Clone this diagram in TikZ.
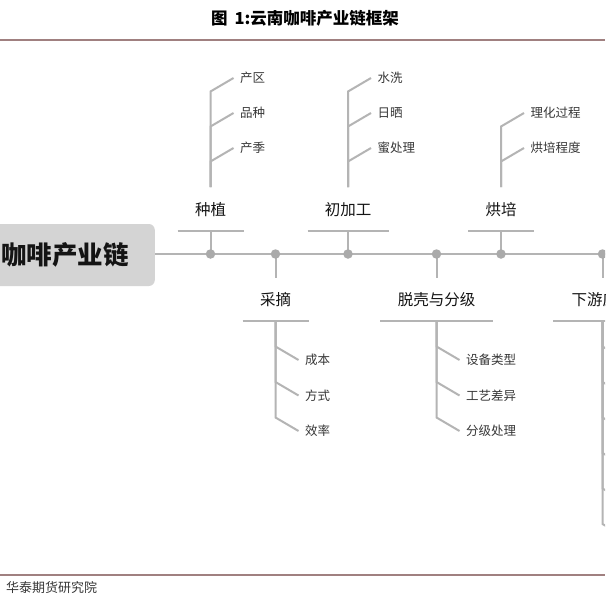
\documentclass[tikz,border=0pt]{standalone}
\usepackage{fontspec}
\newfontfamily\cjk{Noto Sans CJK SC}
\definecolor{linegray}{RGB}{180,180,180}
\definecolor{dotgray}{RGB}{170,170,170}
\definecolor{rootfill}{RGB}{212,212,212}
\definecolor{rulebrown}{RGB}{160,128,128}
\definecolor{labelblack}{RGB}{20,20,20}
\definecolor{leafgray}{RGB}{55,55,55}

\newcommand{\upcat}[6]{% id, x, halfbar, label, top leaf y, leaves
  \coordinate (#1-pt) at (#2,254);
  \node[catlabel] (#1) at (#2,210) {#4};
  \coordinate (#1-bl) at ({#2-#3},231);
  \coordinate (#1-br) at ({#2+#3},231);
  \coordinate (#1-bm) at (#2,231);
  \draw[conn] (#1-bl) -- (#1-br);
  \draw[conn] (#1-bm) -- (#1-pt);
  \coordinate (#1-vb) at (#2,187);
  \foreach \t [count=\i] in {#6} {
    \pgfmathsetmacro\ly{#5+35*(\i-1)}
    \node[leaflabel] (#1-leaf\i) at ({#2+29.5},\ly) {\t};
    \coordinate (#1-j\i) at (#2,{\ly+13.5});
    \draw[conn] (#1-vb) -- (#1-j\i) -- ([xshift=-6.5pt]#1-leaf\i.west);
  }
}
\newcommand{\lowcat}[5]{% id, x, halfbar, label, leaves
  \coordinate (#1-pt) at (#2,254);
  \coordinate (#1-st) at (#2,278);
  \draw[conn] (#1-pt) -- (#1-st);
  \node[catlabel] (#1) at (#2,300) {#4};
  \coordinate (#1-bl) at ({#2-#3},321);
  \coordinate (#1-br) at ({#2+#3},321);
  \coordinate (#1-bm) at (#2,321);
  \draw[conn] (#1-bl) -- (#1-br);
  \foreach \t [count=\i] in {#5} {
    \pgfmathsetmacro\ly{360+35.5*(\i-1)}
    \node[leaflabel] (#1-leaf\i) at ({#2+29.5},\ly) {\t};
    \coordinate (#1-j\i) at (#2,{\ly-13.5});
    \draw[conn] (#1-bm) -- (#1-j\i) -- ([xshift=-6.5pt]#1-leaf\i.west);
  }
}

\begin{document}
\begin{tikzpicture}[x=1pt,y=-1pt,
  conn/.style={draw=linegray, line width=2pt, line join=miter},
  mainln/.style={draw=linegray, line width=2.8pt},
  dotnode/.style={circle, fill=dotgray, inner sep=0pt, minimum size=9.5pt},
  catlabel/.style={font=\cjk\fontsize{15.5}{18}\selectfont, text=labelblack, inner sep=0pt},
  leaflabel/.style={font=\cjk\fontsize{12.5}{15}\selectfont, text=leafgray, inner sep=0pt, anchor=west},
  rootbox/.style={fill=rootfill, rounded corners=6pt, inner xsep=26pt, inner ysep=0pt, minimum height=62pt,
     font=\cjk\bfseries\fontsize{25.5}{30}\selectfont, text=labelblack},
  titletext/.style={font=\cjk\bfseries\fontsize{16.5}{19}\selectfont, text=black, inner sep=0pt},
  foottext/.style={font=\cjk\fontsize{13}{15}\selectfont, text=leafgray, inner sep=0pt, anchor=west},
  rulestyle/.style={draw=rulebrown, line width=1.6pt}]
\useasboundingbox (0,0) rectangle (605,605);
\fill[white] (0,0) rectangle (605,605);
\clip (0,0) rectangle (605,605);

% title and rules
\node[titletext] (title) at (305,18) {图\hspace{7pt}1:云南咖啡产业链框架};
\coordinate (rtl) at (0,40);
\coordinate (rtr) at (605,40);
\draw[rulestyle] (rtl) -- (rtr);
\coordinate (rbl) at (0,575);
\coordinate (rbr) at (605,575);
\draw[rulestyle] (rbl) -- (rbr);
\node[foottext] (foot) at (6,588) {华泰期货研究院};

% root
\node[rootbox, anchor=east] (root) at (155,255) {云南咖啡产业链};
\coordinate (mainend) at (610,254);
\draw[mainln] (root.east |- mainend) -- (mainend);

% categories
\upcat{zz}{210.5}{33}{种植}{78}{产区,品种,产季}
\lowcat{cz}{275.5}{33}{采摘}{成本,方式,效率}
\upcat{cj}{348}{40.5}{初加工}{78}{水洗,日晒,蜜处理}
\lowcat{tk}{436.5}{56.5}{脱壳与分级}{设备类型,工艺差异,分级处理}
\upcat{hb}{501}{33}{烘培}{113}{理化过程,烘培程度}

% downstream (cut at right edge)
\coordinate (xy-pt) at (602.5,254);
\coordinate (xy-st) at (602.5,278);
\draw[conn] (xy-pt) -- (xy-st);
\node[catlabel] (xy) at (602.5,300) {下游应用};
\coordinate (xy-bl) at (553,321);
\coordinate (xy-br) at (652,321);
\coordinate (xy-bm) at (602.5,321);
\draw[conn] (xy-bl) -- (xy-br);
\foreach \i in {1,...,6} {
  \pgfmathsetmacro\ly{360+35.5*(\i-1)}
  \coordinate (xy-j\i) at (602.5,{\ly-13.5});
  \coordinate (xy-e\i) at (625.5,\ly);
  \draw[conn] (xy-bm) -- (xy-j\i) -- (xy-e\i);
}

% dots
\foreach \c in {zz,cz,cj,tk,hb,xy} {
  \node[dotnode] (\c-dot) at (\c-pt) {};
}
\end{tikzpicture}
\end{document}
